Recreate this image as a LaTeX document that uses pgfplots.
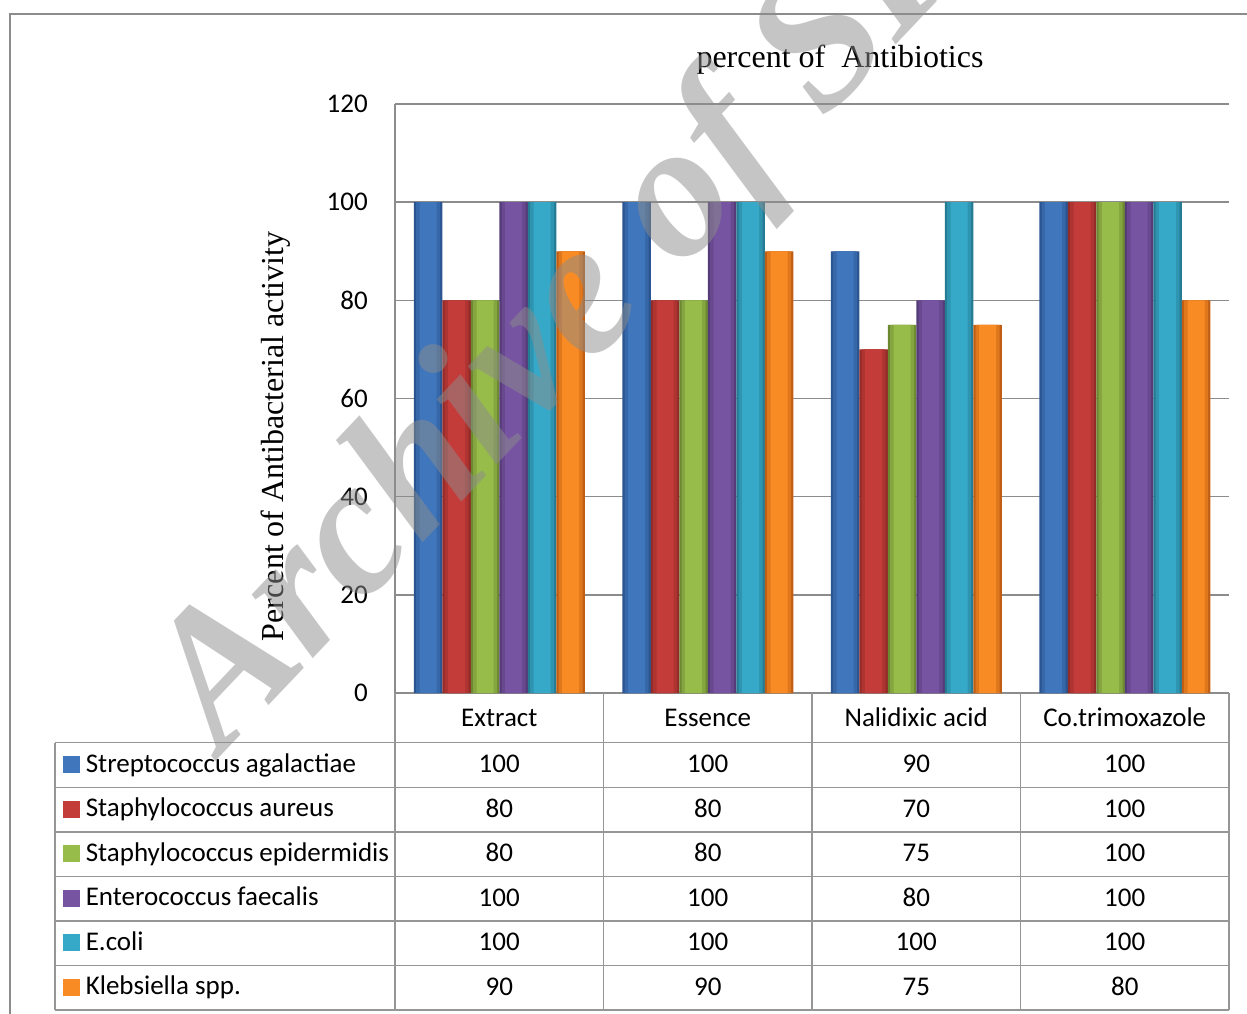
\documentclass[border=0pt]{standalone}
\usepackage{pgfplots}
\usepackage{pgfplotstable}
\pgfplotsset{compat=1.18}
\usepackage{fontspec}
\setmainfont{Liberation Serif}
\newfontfamily\calibri{Carlito}

\newcommand\tablefont{\calibri\fontsize{27bp}{32bp}\selectfont}
\newcommand\labelfont{\fontsize{32bp}{37bp}\selectfont}

\definecolor{gridgray}{HTML}{8C8C8C}
\definecolor{tablegray}{HTML}{969696}
\definecolor{wmgray}{HTML}{8C8C8C}

% bar colours: edge / middle
\definecolor{blueE}{HTML}{2B5590}\definecolor{blueM}{HTML}{3F76BC}
\definecolor{redE}{HTML}{932B29}\definecolor{redM}{HTML}{C43C3A}
\definecolor{greenE}{HTML}{6C8932}\definecolor{greenM}{HTML}{97BC4A}
\definecolor{purpE}{HTML}{553B78}\definecolor{purpM}{HTML}{7754A2}
\definecolor{cyanE}{HTML}{257B93}\definecolor{cyanM}{HTML}{36A9C8}
\definecolor{oranE}{HTML}{C05E14}\definecolor{oranM}{HTML}{F88B24}

% columns: one per bacterium, rows: Extract, Essence, Nalidixic acid, Co.trimoxazole
\pgfplotstableread{
cat strep saur sepi efae ecoli kleb
0   100   80   80   100  100   90
1   100   80   80   100  100   90
2   90    70   75   80   100   75
3   100   100  100  100  100   80
}\bars

% one series drawn as three bars on top of each other, dark edges and a bright middle
% #1 column, #2 shift in bp, #3 edge colour, #4 middle colour
\newcommand\cylbar[4]{%
  \addplot[ybar, forget plot, draw=none, fill=#3, bar width=28.5bp, bar shift=#2bp]
    table[x=cat, y=#1] {\bars};
  \addplot[ybar, forget plot, draw=none, fill=#3!45!#4, bar width=24bp, bar shift=#2bp]
    table[x=cat, y=#1] {\bars};
  \addplot[ybar, draw=none, fill=#4, bar width=17bp, bar shift=#2bp]
    table[x=cat, y=#1] {\bars};
}

\begin{document}
\begin{tikzpicture}
\path[use as bounding box] (0bp,0bp) rectangle (1247bp,-1014bp);

\begin{axis}[
  at={(395bp,-693bp)}, anchor=south west,
  scale only axis, width=834bp, height=589bp,
  xmin=-0.5, xmax=3.5, ymin=0, ymax=120,
  xtick={0,1,2,3},
  xticklabels={Extract,Essence,Nalidixic acid,Co.trimoxazole},
  ytick={0,20,...,120},
  major tick length=0pt,
  axis x line*=bottom, axis y line*=left,
  axis line style={draw=gridgray, line width=1.5bp, -},
  ymajorgrids, grid style={draw=gridgray, line width=1.5bp},
  /pgf/number format/assume math mode=true,
  xticklabel style={font=\tablefont, anchor=base, inner sep=0pt, yshift=-33bp},
  yticklabel style={font=\tablefont, anchor=east, inner sep=0pt, xshift=-27bp},
  title={percent of\ \ Antibiotics},
  title style={font=\labelfont, at={(axis description cs:0.5336,1.0526)}, anchor=base,
    yshift=0pt, inner sep=0pt},
  ylabel={Percent of Antibacterial activity},
  every axis y label/.style={font=\labelfont, at={(axis description cs:-0.1343,0.436)},
    rotate=90, anchor=base, inner sep=0pt},
  legend style={at={(-0.3977,-0.0844)}, anchor=north west, draw=none, fill=none,
    inner sep=0pt, outer sep=0pt, row sep=0pt, column sep=5.5bp,
    nodes={inner sep=0pt, text height=29.5bp, text depth=15.05bp, font=\tablefont},
    cells={anchor=base west}},
  legend image code/.code={\fill[#1] (0bp,-1bp) rectangle (17bp,16bp);},
  clip=false,
]
\cylbar{strep}{-71.25}{blueE}{blueM}
\cylbar{saur}{-42.75}{redE}{redM}
\cylbar{sepi}{-14.25}{greenE}{greenM}
\cylbar{efae}{14.25}{purpE}{purpM}
\cylbar{ecoli}{42.75}{cyanE}{cyanM}
\cylbar{kleb}{71.25}{oranE}{oranM}
\legend{Streptococcus agalactiae, Staphylococcus aureus, Staphylococcus epidermidis,
  Enterococcus faecalis, E.coli, Klebsiella spp.}
\end{axis}

\begin{scope}[x=1bp, y=-1bp]
  % outer frame
  \draw[gridgray, line width=1.5bp] (10,1014) -- (10,14) -- (1247,14);
  % data table grid
  \foreach \r in {0,...,6}
    \draw[tablegray, line width=1.5bp] (55,{742.7+44.55*\r}) -- (1229,{742.7+44.55*\r});
  \draw[tablegray, line width=1.5bp] (55,742.7) -- (55,1010);
  \foreach \c in {0,...,4}
    \draw[tablegray, line width=1.5bp] ({395+208.5*\c},693) -- ({395+208.5*\c},1010);
  % data table values
  \foreach \col [count=\r from 0] in {strep,saur,sepi,efae,ecoli,kleb} {
    \foreach \c in {0,1,2,3} {
      \pgfplotstablegetelem{\c}{\col}\of\bars
      \node[anchor=base, inner sep=0pt, font=\tablefont] at ({395+208.5*(\c+0.5)},{742.7+44.55*\r+30}) {\pgfplotsretval};
    }
  }
  % watermark
  \node[rotate=46.5, anchor=base west, inner sep=0pt, text=wmgray, text opacity=0.5,
    font=\fontsize{192bp}{192bp}\selectfont\bfseries\itshape] at (222,755) {Archive of SID};
\end{scope}
\end{tikzpicture}
\end{document}
